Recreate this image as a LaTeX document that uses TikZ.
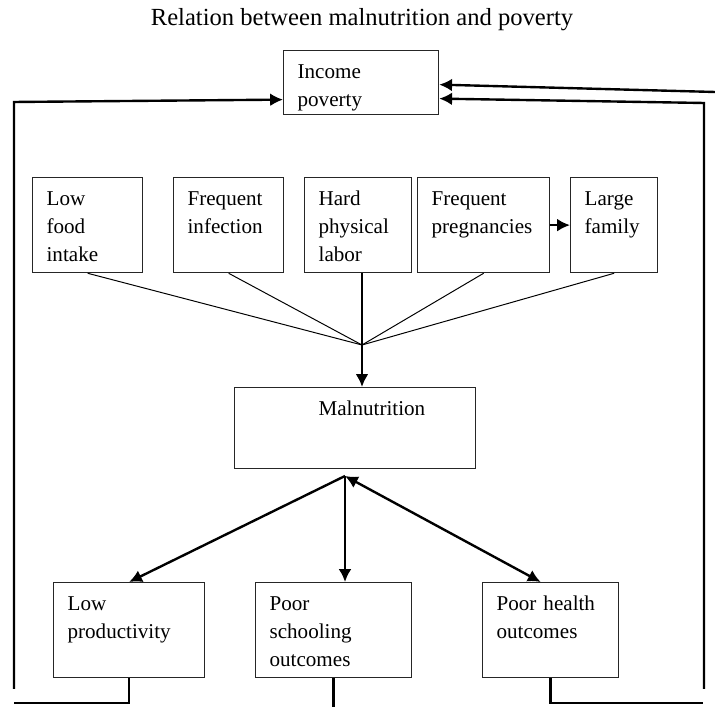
\documentclass[tikz,border=0pt]{standalone}
\usepackage{fontspec}
\setmainfont{Liberation Serif}
\usetikzlibrary{arrows.meta,calc}
\newcommand{\mpfont}{\fontsize{15pt}{19.7pt}\selectfont}
\tikzset{
  mp/box/.style={
    draw=black!85,
    line width=0.9pt,
    anchor=north west,
    align=left,
    inner xsep=0.35cm,
    inner ysep=0pt,
    text height=0.7cm,
    font=\mpfont
  },
  mp/arrow/.style={-{Latex[length=3.2mm,width=3.2mm]}, line width=1.7pt},
  mp/twoway/.style={{Latex[length=3.2mm,width=3.2mm]}-{Latex[length=3.2mm,width=3.2mm]}, line width=1.7pt},
  mp/feed/.style={line width=1.7pt},
  mp/thin/.style={line width=0.7pt},
  mp/title/.style={font=\fontsize{17.5pt}{21pt}\selectfont}
}

\begin{document}
\begin{tikzpicture}[x=1cm,y=1cm]
  \useasboundingbox (0,0) rectangle (17.875,17.675);
  \node[mp/title] (title) at (9.05,17.175) {Relation between malnutrition and poverty};
  % top
  \node[mp/box,text width=3.175cm,text depth=0.9cm] (income) at (7.075,16.425) {Income\\poverty};
  % causes
  \node[mp/box,text width=2.05cm,text depth=1.675cm] (food) at (0.8,13.25) {Low\\food\\intake};
  \node[mp/box,text width=2.05cm,text depth=1.675cm] (infection) at (4.325,13.25) {Frequent\\infection};
  \node[mp/box,text width=1.975cm,text depth=1.675cm] (labor) at (7.6,13.25) {Hard\\physical\\labor};
  \node[mp/box,text width=2.6cm,text depth=1.675cm] (pregnancy) at (10.425,13.25) {Frequent\\pregnancies};
  \node[mp/box,text width=1.475cm,text depth=1.675cm] (family) at (14.25,13.25) {Large\\family};
  % centre
  \node[mp/box,text width=5.325cm,text depth=1.325cm] (malnut) at (5.85,8.0) {\hspace*{1.75cm}Malnutrition};
  % effects
  \node[mp/box,text width=3.075cm,text depth=1.675cm] (lowprod) at (1.325,3.125) {Low\\productivity};
  \node[mp/box,text width=3.2cm,text depth=1.675cm] (schooling) at (6.375,3.125) {Poor\\schooling\\outcomes};
  \node[mp/box,text width=2.7cm,text depth=1.675cm] (health) at (12.05,3.125) {Poor health\\outcomes};

  \coordinate (cv) at (9.05,9.05);
  \coordinate (mo) at (8.625,5.775);
  \coordinate (ltop) at (0.35,15.125);
  \coordinate (lbot) at (0.35,0.45);
  \coordinate (rtop) at (17.6,15.1);
  \coordinate (rbot) at (17.6,0.45);
  \coordinate (redge) at (17.875,15.375);
  \coordinate (lcorner) at (0.35,0.1);
  \coordinate (rcorner) at (17.575,0.1);
  \coordinate (floor) at (8.45,0);

  \foreach \src in {food,infection,pregnancy,family}
    \draw[mp/thin] (\src.south) -- (cv);
  \draw[mp/arrow,line width=1.9pt] (labor.south -| cv) -- (cv |- malnut.north);
  \draw[mp/arrow] (pregnancy.east) -- (family.west);

  \draw[mp/arrow] (mo) -- (lowprod.north);
  \draw[mp/arrow] (mo) -- (mo |- schooling.north);
  \draw[mp/twoway] (mo) -- ([xshift=-0.25cm]health.north);

  % feedback to income
  \draw[mp/feed] (lowprod.south) |- (lcorner);
  \draw[mp/feed] (schooling.south) -- (schooling.south |- floor);
  \draw[mp/feed] (health.south) |- (rcorner);
  \draw[mp/arrow] (lbot) -- (ltop) -- ([yshift=-0.425cm]income.west);
  \draw[mp/arrow] (rbot) -- (rtop) -- ([yshift=-0.4cm]income.east);
  \draw[mp/arrow] (redge) -- ([yshift=-0.05cm]income.east);
\end{tikzpicture}
\end{document}
